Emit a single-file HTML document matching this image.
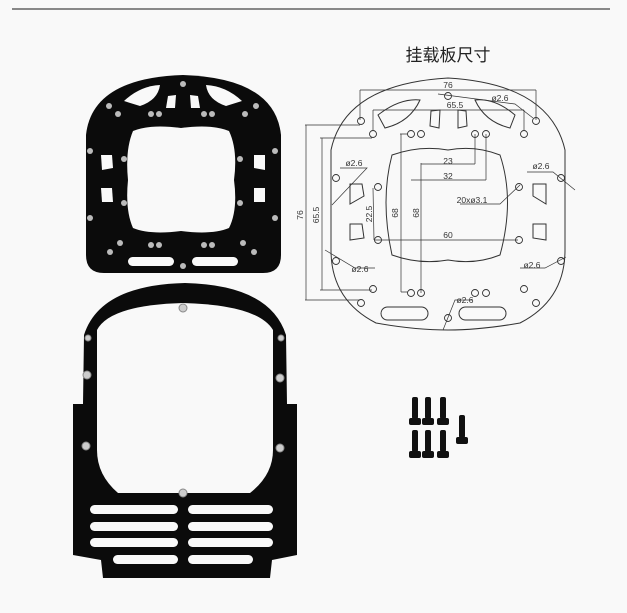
<!DOCTYPE html>
<html><head><meta charset="utf-8"><style>
html,body{margin:0;padding:0;background:#f9f9f9}
svg{display:block}
</style></head><body>
<svg width="627" height="613" viewBox="0 0 627 613" xmlns="http://www.w3.org/2000/svg">
<rect width="627" height="613" fill="#f9f9f9"/>
<rect x="12" y="8" width="598" height="2" fill="#888"/>

<!-- top black plate -->
<path d="M86,135 Q92,78 183,75 Q275,78 281,135 L281,255 Q281,273 263,273 L104,273 Q86,273 86,255 Z" fill="#0b0b0b"/>
<path d="M133,131 Q150,124 181,128 Q212,124 229,131 Q238,150 234,180 Q238,210 229,228 Q212,235 181,231 Q150,235 133,228 Q125,210 128,180 Q125,150 133,131 Z" fill="#f9f9f9"/>
<path d="M124,101 Q140,86 160,85 Q158,100 140,106 Z" fill="#f9f9f9"/>
<path d="M242,101 Q226,86 206,85 Q208,100 226,106 Z" fill="#f9f9f9"/>
<path d="M168,96 L176,95 L175,108 L166,108 Z" fill="#f9f9f9"/>
<path d="M190,95 L198,96 L200,108 L191,108 Z" fill="#f9f9f9"/>
<path d="M101,155 L112,155 L113,168 L102,170 Z" fill="#f9f9f9"/>
<path d="M101,188 L112,188 L113,202 L102,202 Z" fill="#f9f9f9"/>
<path d="M254,155 L265,155 L265,170 L254,168 Z" fill="#f9f9f9"/>
<path d="M254,188 L265,188 L265,202 L254,202 Z" fill="#f9f9f9"/>
<rect x="128" y="257" width="46" height="9" rx="4.5" fill="#f9f9f9"/>
<rect x="192" y="257" width="46" height="9" rx="4.5" fill="#f9f9f9"/>
<g fill="#bbb">
<circle cx="183" cy="84" r="3"/><circle cx="109" cy="106" r="3"/><circle cx="256" cy="106" r="3"/>
<circle cx="118" cy="114" r="3"/><circle cx="245" cy="114" r="3"/>
<circle cx="151" cy="114" r="3"/><circle cx="159" cy="114" r="3"/><circle cx="204" cy="114" r="3"/><circle cx="212" cy="114" r="3"/>
<circle cx="90" cy="151" r="3"/><circle cx="275" cy="151" r="3"/><circle cx="124" cy="159" r="3"/><circle cx="240" cy="159" r="3"/>
<circle cx="124" cy="203" r="3"/><circle cx="240" cy="203" r="3"/><circle cx="90" cy="218" r="3"/><circle cx="275" cy="218" r="3"/>
<circle cx="120" cy="243" r="3"/><circle cx="243" cy="243" r="3"/>
<circle cx="151" cy="245" r="3"/><circle cx="159" cy="245" r="3"/><circle cx="204" cy="245" r="3"/><circle cx="212" cy="245" r="3"/>
<circle cx="110" cy="252" r="3"/><circle cx="254" cy="252" r="3"/><circle cx="183" cy="266" r="3"/>
</g>

<!-- bottom frame -->
<path d="M84,335 Q100,285 185,283 Q270,285 286,335 L287,404 L297,404 L297,555 L272,560 L270,578 L103,578 L101,560 L73,555 L73,404 L83,404 Z" fill="#0b0b0b"/>
<path d="M97,330 Q110,305 183,303 Q258,305 273,330 L273,450 Q273,475 250,493 L118,493 Q97,475 97,450 Z" fill="#f9f9f9"/>
<g fill="#f9f9f9">
<rect x="90" y="505" width="88" height="9" rx="4.5"/><rect x="188" y="505" width="85" height="9" rx="4.5"/>
<rect x="90" y="522" width="88" height="9" rx="4.5"/><rect x="188" y="522" width="85" height="9" rx="4.5"/>
<rect x="90" y="538" width="88" height="9" rx="4.5"/><rect x="188" y="538" width="85" height="9" rx="4.5"/>
<rect x="113" y="555" width="65" height="9" rx="4.5"/><rect x="188" y="555" width="65" height="9" rx="4.5"/>
</g>
<g fill="#ccc" stroke="#888" stroke-width="1">
<circle cx="183" cy="308" r="4"/><circle cx="88" cy="338" r="3"/><circle cx="281" cy="338" r="3"/>
<circle cx="87" cy="375" r="4"/><circle cx="280" cy="378" r="4"/>
<circle cx="86" cy="446" r="4"/><circle cx="280" cy="448" r="4"/><circle cx="183" cy="493" r="4"/>
</g>

<!-- title -->
<text x="448" y="61" font-family="'Liberation Sans','Noto Sans CJK SC',sans-serif" font-size="17" fill="#222" text-anchor="middle">挂载板尺寸</text>

<!-- drawing -->
<g fill="none" stroke="#333" stroke-width="1">
<path d="M331,150 Q345,84 448,78 Q550,84 565,150 L565,250 Q565,300 520,323 Q480,330 448,330 Q415,330 376,323 Q331,300 331,250 Z"/>
<path d="M392,155 Q420,145 448,150 Q475,145 500,155 Q515,200 500,255 Q475,265 448,260 Q420,265 392,255 Q380,200 392,155 Z"/>
<path d="M378,115 Q400,98 420,100 Q410,122 385,128 Z"/>
<path d="M515,115 Q495,98 475,100 Q485,122 510,128 Z"/>
<path d="M431,111 L440,110 L439,128 L430,126 Z"/><path d="M458,110 L466,111 L467,126 L458,128 Z"/>
<path d="M350,184 L362,184 L364,196 L350,204 Z"/><path d="M350,224 L362,224 L364,238 L350,240 Z"/>
<path d="M533,184 L546,184 L546,204 L533,196 Z"/><path d="M533,224 L546,224 L546,240 L533,238 Z"/>
<rect x="381" y="307" width="47" height="13" rx="6.5"/><rect x="459" y="307" width="47" height="13" rx="6.5"/>
<g stroke-width="0.9">
<circle cx="448" cy="96" r="3.5"/><circle cx="361" cy="121" r="3.5"/><circle cx="536" cy="121" r="3.5"/>
<circle cx="373" cy="134" r="3.5"/><circle cx="524" cy="134" r="3.5"/>
<circle cx="411" cy="134" r="3.5"/><circle cx="421" cy="134" r="3.5"/><circle cx="475" cy="134" r="3.5"/><circle cx="486" cy="134" r="3.5"/>
<circle cx="336" cy="178" r="3.5"/><circle cx="561" cy="178" r="3.5"/><circle cx="378" cy="187" r="3.5"/><circle cx="519" cy="187" r="3.5"/>
<circle cx="378" cy="240" r="3.5"/><circle cx="519" cy="240" r="3.5"/><circle cx="336" cy="261" r="3.5"/><circle cx="561" cy="261" r="3.5"/>
<circle cx="373" cy="289" r="3.5"/><circle cx="524" cy="289" r="3.5"/>
<circle cx="411" cy="293" r="3.5"/><circle cx="421" cy="293" r="3.5"/><circle cx="475" cy="293" r="3.5"/><circle cx="486" cy="293" r="3.5"/>
<circle cx="361" cy="303" r="3.5"/><circle cx="536" cy="303" r="3.5"/><circle cx="448" cy="318" r="3.5"/>
</g>
<g stroke-width="0.7">
<path d="M360,90 L536,90 M360,90 L360,120 M536,90 L536,120"/>
<path d="M373,110 L524,110 M373,110 L373,130 M524,110 L524,130"/>
<path d="M305,125 L360,125 M305,300 L360,300 M306,125 L306,300"/>
<path d="M320,138 L372,138 M320,290 L372,290 M322,138 L322,290"/>
<path d="M400,134 L408,134 M401,134 L401,292 M401,292 L408,292"/>
<path d="M421,163 L421,293"/>
<path d="M373,188 L374,240 M374,240 L518,240"/>
<path d="M421,164 L475,164 M475,134 L475,164"/>
<path d="M411,180 L486,180 M486,134 L486,180"/>
<path d="M438,94 L515,104 L533,118"/>
<path d="M340,168 L367,168 L332,205"/>
<path d="M527,172 L553,172 L575,190"/>
<path d="M460,204 L500,204 L520,185"/>
<path d="M325,250 L355,268 L375,268"/>
<path d="M520,268 L545,268 L566,257"/>
<path d="M443,330 L455,300 L472,300"/>
</g>
</g>
<g font-family="'Liberation Sans',sans-serif" font-size="8.5" fill="#333" text-anchor="middle">
<text x="448" y="88">76</text>
<text x="455" y="108">65.5</text>
<text x="500" y="101">ø2.6</text>
<text x="448" y="164">23</text>
<text x="448" y="179">32</text>
<text x="472" y="203">20xø3.1</text>
<text x="448" y="238">60</text>
<text x="354" y="166">ø2.6</text>
<text x="541" y="169">ø2.6</text>
<text x="360" y="272">ø2.6</text>
<text x="532" y="268">ø2.6</text>
<text x="465" y="303">ø2.6</text>
<text transform="translate(303,215) rotate(-90)">76</text>
<text transform="translate(319,215) rotate(-90)">65.5</text>
<text transform="translate(372,214) rotate(-90)">22.5</text>
<text transform="translate(398,213) rotate(-90)">68</text>
<text transform="translate(419,213) rotate(-90)">68</text>
</g>

<!-- screws -->
<g fill="#111">
<rect x="412" y="397" width="6" height="22" rx="2"/><rect x="409" y="418" width="12" height="7" rx="2"/>
<rect x="425" y="397" width="6" height="22" rx="2"/><rect x="422" y="418" width="12" height="7" rx="2"/>
<rect x="440" y="397" width="6" height="22" rx="2"/><rect x="437" y="418" width="12" height="7" rx="2"/>
<rect x="412" y="430" width="6" height="22" rx="2"/><rect x="409" y="451" width="12" height="7" rx="2"/>
<rect x="425" y="430" width="6" height="22" rx="2"/><rect x="422" y="451" width="12" height="7" rx="2"/>
<rect x="440" y="430" width="6" height="22" rx="2"/><rect x="437" y="451" width="12" height="7" rx="2"/>
<rect x="459" y="415" width="6" height="23" rx="2"/><rect x="456" y="437" width="12" height="7" rx="2"/>
</g>
</svg>
</body></html>
